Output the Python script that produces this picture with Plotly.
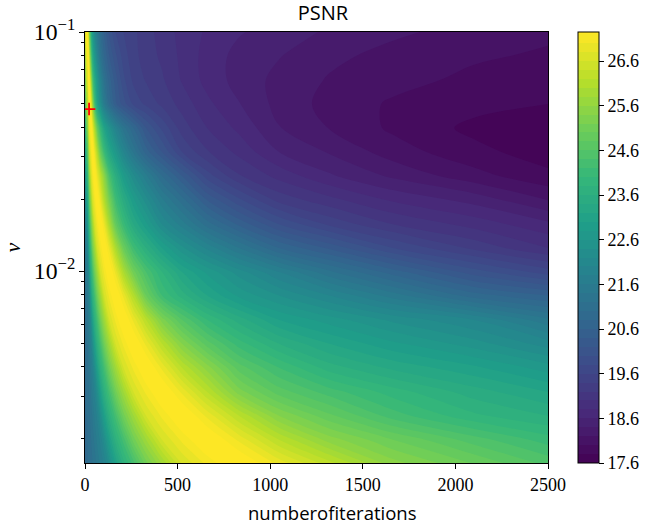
import plotly.graph_objects as go

iterations = [0, 5, 8, 10, 13, 16, 21, 26, 33, 41, 52, 66, 83, 104, 131, 165, 208, 262, 330, 416, 524, 660, 832, 1048, 1321, 1664, 2097, 2500]
nu_values = [0.00156, 0.00197, 0.00248, 0.00312, 0.00394, 0.00496, 0.00625, 0.0079, 0.0099, 0.0125, 0.0157, 0.0198, 0.025, 0.0315, 0.0397, 0.05, 0.063, 0.0794, 0.1]

row_18 = [20.9, 20.9, 20.95, 20.95, 20.95, 21, 21, 21.05, 21.1, 21.2, 21.3, 21.45, 21.65, 21.85, 22.3, 23, 23.7, 24.3, 25.1, 25.8, 26.6, 27.05, 27.5, 26.95, 26.3, 25.5, 25, 24.55]
row_17 = [20.9, 20.95, 20.95, 20.95, 21, 21, 21.05, 21.1, 21.2, 21.3, 21.45, 21.65, 21.85, 22.3, 23, 23.7, 24.3, 25.1, 25.8, 26.6, 27.05, 27.5, 26.95, 26.2, 25.5, 25, 24.5, 24.1]
row_16 = [20.95, 20.95, 21, 21, 21.05, 21.05, 21.1, 21.2, 21.3, 21.45, 21.65, 21.85, 22.3, 23, 23.7, 24.3, 25.1, 25.8, 26.6, 27.05, 27.5, 26.95, 26.2, 25.4, 24.85, 24.3, 23.85, 23.6]
row_15 = [20.95, 21, 21.05, 21.05, 21.1, 21.15, 21.2, 21.3, 21.45, 21.65, 21.85, 22.3, 23, 23.7, 24.3, 25.1, 25.8, 26.6, 27.05, 27.5, 26.95, 26.2, 25.3, 24.7, 24.3, 23.9, 23.5, 23.2]
row_14 = [21, 21.05, 21.1, 21.1, 21.1, 21.2, 21.3, 21.45, 21.65, 21.85, 22.3, 23, 23.7, 24.3, 25.1, 25.8, 26.6, 27.05, 27.5, 26.95, 26.2, 25.5, 24.7, 24.2, 23.7, 23.35, 23.05, 22.7]
row_13 = [21, 21.1, 21.15, 21.2, 21.2, 21.3, 21.45, 21.65, 21.85, 22.3, 23, 23.7, 24.3, 25.1, 25.8, 26.6, 27.05, 27.5, 26.95, 26.2, 25.4, 24.7, 24.1, 23.6, 23.2, 22.85, 22.5, 22.1]
row_12 = [21.05, 21.2, 21.25, 21.3, 21.3, 21.45, 21.65, 21.85, 22.3, 23, 23.7, 24.3, 25.1, 25.8, 26.6, 27.05, 27.5, 26.95, 26.2, 25.3, 24.6, 24, 23.5, 23, 22.7, 22.35, 22, 21.45]
row_11 = [21.1, 21.3, 21.4, 21.45, 21.45, 21.65, 21.85, 22.3, 23, 23.7, 24.3, 25.1, 25.8, 26.6, 27.05, 27.5, 26.95, 26.1, 25, 24.2, 23.7, 23.2, 22.75, 22.4, 22, 21.5, 20.9, 20.6]
row_10 = [21.15, 21.45, 21.6, 21.65, 21.65, 21.85, 22.3, 23, 23.7, 24.3, 25.1, 25.8, 26.6, 27.05, 27.5, 26.95, 26, 25.1, 24.4, 23.8, 23.2, 22.75, 22.3, 21.8, 21.25, 20.7, 20.1, 19.7]
row_9 = [21.25, 21.6, 21.8, 21.85, 21.85, 22.3, 23, 23.7, 24.3, 25.1, 25.8, 26.6, 27.05, 27.5, 26.95, 26, 25, 24.2, 23.6, 23, 22.45, 21.95, 21.4, 20.8, 20.35, 19.8, 19.35, 19.0]
row_8 = [21.4, 21.85, 22.2, 22.3, 22.3, 23, 23.7, 24.3, 25.1, 25.8, 26.6, 27.05, 27.5, 26.95, 26, 24.9, 24.1, 23.4, 22.85, 22.2, 21.7, 21.1, 20.55, 20.0, 19.55, 19.2, 18.92, 18.65]
row_7 = [21.6, 22.3, 22.8, 23, 23, 23.7, 24.3, 25.1, 25.8, 26.6, 27.05, 27.5, 26.95, 26.1, 25.2, 24.2, 23.5, 22.85, 22.3, 21.65, 21.1, 20.4, 19.85, 19.33, 19.07, 18.77, 18.53, 18.2]
row_6 = [21.8, 22.9, 23.4, 23.7, 23.7, 24.3, 25.1, 25.8, 26.6, 27.05, 27.5, 26.95, 26.3, 25.5, 24.4, 23.6, 22.85, 22.25, 21.65, 21.0, 20.4, 19.7, 19.22, 18.93, 18.63, 18.36, 18.08, 17.85]
row_5 = [22.2, 23.6, 24.1, 24.3, 24.3, 25.1, 25.8, 26.6, 27.05, 27.5, 26.95, 26.1, 25, 24.1, 23.3, 22.7, 22, 21.35, 20.7, 20.2, 19.6, 19.22, 18.94, 18.6, 18.38, 18.1, 17.86, 17.7]
row_4 = [22.8, 24.2, 24.9, 25.1, 25.1, 25.8, 26.6, 27.05, 27.5, 26.95, 26, 24.9, 24, 23.1, 22.5, 21.9, 21.3, 20.8, 20.2, 19.75, 19.3, 19.0, 18.75, 18.41, 18.19, 17.96, 17.75, 17.66]
row_3 = [23.4, 25, 25.5, 25.8, 25.8, 26.6, 27.05, 27.5, 26.95, 25.7, 24.3, 23.2, 22.4, 21.6, 21, 20.45, 20.1, 19.75, 19.55, 19.35, 19.12, 18.85, 18.61, 18.33, 18.13, 17.97, 17.87, 17.8]
row_2 = [24.1, 25.7, 26.3, 26.6, 26.6, 27.05, 27.5, 26.95, 25.8, 24.5, 23.5, 22.7, 21.9, 21.2, 20.7, 20.3, 19.85, 19.55, 19.38, 19.23, 18.98, 18.73, 18.52, 18.34, 18.18, 18.07, 17.95, 17.87]
row_1 = [24.9, 26.4, 26.9, 27.05, 27.05, 27.5, 26.95, 25.7, 24.6, 23.5, 22.7, 22, 21.3, 20.8, 20.4, 20.05, 19.7, 19.47, 19.3, 19.16, 18.95, 18.72, 18.53, 18.41, 18.25, 18.13, 18.03, 17.97]
row_0 = [26.2, 27.1, 27.4, 27.5, 27.5, 27, 25.6, 24.8, 23.6, 22.8, 22.1, 21.5, 21, 20.55, 20.15, 19.8, 19.6, 19.45, 19.28, 19.12, 18.93, 18.77, 18.62, 18.5, 18.37, 18.24, 18.12, 18.04]
psnr = [row_18, row_17, row_16, row_15, row_14, row_13, row_12, row_11, row_10, row_9,
        row_8, row_7, row_6, row_5, row_4, row_3, row_2, row_1, row_0]

best_iteration = [22]
best_nu = [0.0476]

SERIF = "Liberation Serif"
SANS = "Open Sans"

fig = go.Figure()
fig.add_trace(go.Contour(
    x=iterations, y=nu_values, z=psnr,
    colorscale="Viridis", zmin=17.6, zmax=27.25,
    autocontour=False,
    contours=dict(start=17.6, end=27.2, size=0.2, coloring="fill", showlines=False),
    line=dict(width=0),
    colorbar=dict(
        x=(578 - 85) / 463, xanchor="left", xpad=0, ypad=0, y=0, yanchor="bottom", len=1, lenmode="fraction",
        thickness=21, thicknessmode="pixels", outlinecolor="black", outlinewidth=1,
        tick0=17.6, dtick=1, tickformat=".1f", ticks="outside", ticklen=5, tickcolor="black",
        tickfont=dict(family=SERIF, size=18, color="black"),
    ),
))
fig.add_trace(go.Scatter(
    x=best_iteration, y=best_nu, mode="markers", showlegend=False,
    marker=dict(symbol="cross-thin", size=9, line=dict(color="red", width=1.8)),
))
fig.update_layout(
    width=646, height=527, paper_bgcolor="white", plot_bgcolor="white",
    margin=dict(l=85, r=98, t=32, b=64, autoexpand=False),
    title=dict(text="PSNR", x=323 / 646, xanchor="center", y=1 - 13 / 527, yanchor="middle",
               font=dict(family=SANS, size=20, color="black")),
    annotations=[dict(text="numberofiterations", xref="paper", yref="paper",
                      x=(332 - 85) / 463, y=-(512 - 463) / 431, xanchor="center", yanchor="middle",
                      showarrow=False, font=dict(family=SANS, size=18.5, color="black"))],
)
fig.update_xaxes(
    range=[0, 2500], tick0=0, dtick=500, ticks="outside", ticklen=5, tickcolor="black",
    showline=True, mirror=True, linecolor="black", linewidth=1, showgrid=False, zeroline=False,
    tickfont=dict(family=SERIF, size=18, color="black"),
)
fig.update_yaxes(
    type="log", range=[-2.803, -1], dtick=1, exponentformat="power",
    ticks="outside", ticklen=5, tickcolor="black",
    minor=dict(ticks="outside", ticklen=3, tickcolor="black", dtick="D1", showgrid=False),
    showline=True, mirror=True, linecolor="black", linewidth=1, showgrid=False, zeroline=False,
    tickfont=dict(family=SERIF, size=19, color="black"),
    title=dict(text="<i>ν</i>", font=dict(family=SERIF, size=22, color="black"), standoff=14),
)
fig.write_html("out.html", config={"displayModeBar": False}, post_script="document.body.style.margin='0';")
